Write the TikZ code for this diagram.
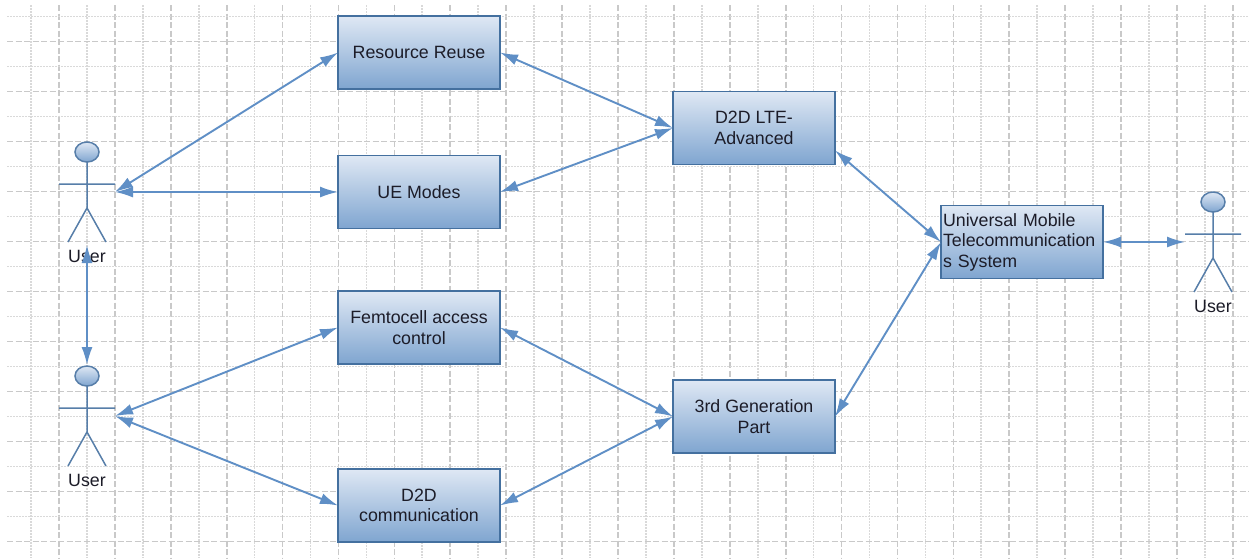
\documentclass[tikz,border=0pt]{standalone}
\usepackage{fontspec}
\setmainfont{Liberation Sans}
\usetikzlibrary{arrows.meta}
\definecolor{linkblue}{HTML}{5F8FC6}
\definecolor{edgeblue}{HTML}{44709F}
\definecolor{boxtop}{HTML}{DFE8F4}
\definecolor{boxbottom}{HTML}{7FA5D0}
\definecolor{inkdark}{HTML}{1C1C28}
\tikzset{
  usecase/.style={draw=edgeblue, line width=1.2pt, top color=boxtop, bottom color=boxbottom,
    minimum width=162pt, minimum height=73pt, inner sep=2pt, outer sep=0pt, text=inkdark, align=center,
    font=\fontsize{17.8}{20.5}\selectfont},
  link/.style={draw=linkblue, line width=1.9pt, {Latex[length=18pt,width=11pt]}-{Latex[length=18pt,width=11pt]}},
  stickline/.style={draw=edgeblue!90!white, line width=1.5pt},
  majorgrid/.style={draw=gray!42, line width=1.7pt, dash pattern=on 6pt off 2.5pt},
  minorgrid/.style={draw=gray!30, line width=1.7pt, dash pattern=on 1.5pt off 1.5pt},
  pics/useractor/.style={code={
    \draw[stickline, top color=boxtop, bottom color=boxbottom] (0,-40) circle (12pt and 10pt);
    \draw[stickline] (0,-30) -- (0,16) (-28,-8) -- (28,-8) (-19,50) -- (0,16) -- (19,50);
    \node[text=inkdark, font=\fontsize{17.8}{20}\selectfont] (-label) at (0,64) {User};
    \coordinate (-east) at (28,0);
    \coordinate (-west) at (-28,0);
    \coordinate (-top) at (0,-51);
    \coordinate (-foot) at (0,53);
  }}
}
\begin{document}
\begin{tikzpicture}[x=1pt,y=-1pt]

\pgfmathsetmacro{\gridx}{55.9}
\pgfmathsetmacro{\gridy}{50}

\useasboundingbox (0,0) rectangle (1249,558);
\fill[white] (0,0) rectangle (1249,558);

% Grid in the back:
\foreach \i in {0,...,21} {
  \draw[minorgrid] (31+\i*\gridx,5) -- (31+\i*\gridx,558);
  \draw[majorgrid] (59+\i*\gridx,5) -- (59+\i*\gridx,558);
}
\foreach \i in {0,...,10} {
  \draw[minorgrid] (7,16.5+\i*\gridy) -- (1249,16.5+\i*\gridy);
  \draw[majorgrid] (7,41.5+\i*\gridy) -- (1249,41.5+\i*\gridy);
}

% Use cases:
\node[usecase] (reuse) at (419,52.5) {Resource Reuse};
\node[usecase] (modes) at (419,192) {UE Modes};
\node[usecase] (femto) at (419,327.5) {Femtocell access\\control};
\node[usecase] (d2d) at (419,505.5) {D2D\\communication};
\node[usecase] (lte) at (754,128) {D2D LTE-\\Advanced};
\node[usecase] (third) at (754,416.5) {3rd Generation\\Part};
\node[usecase, align=left, text width=158pt] (umts) at (1022,242) {Universal Mobile\\Telecommunication\\s System};

% Actors:
\pic (userone) at (87,192) {useractor};
\pic (usertwo) at (87,416) {useractor};
\pic (userthree) at (1213,242) {useractor};

% Links:
\draw[link] (userone-east) -- (reuse.west);
\draw[link] (userone-east) -- (modes.west);
\draw[link] (userone-foot) -- (usertwo-top);
\draw[link] (usertwo-east) -- (femto.west);
\draw[link] (usertwo-east) -- (d2d.west);
\draw[link] (reuse.east) -- (lte.west);
\draw[link] (modes.east) -- (lte.west);
\draw[link] (femto.east) -- (third.west);
\draw[link] (d2d.east) -- (third.west);
\draw[link] (lte.south east) ++ (0,-14) coordinate (lteout) (lteout) -- (umts.west);
\draw[link] (third.east) -- (umts.west);
\draw[link] (umts.east) -- (userthree-west);

\end{tikzpicture}
\end{document}
